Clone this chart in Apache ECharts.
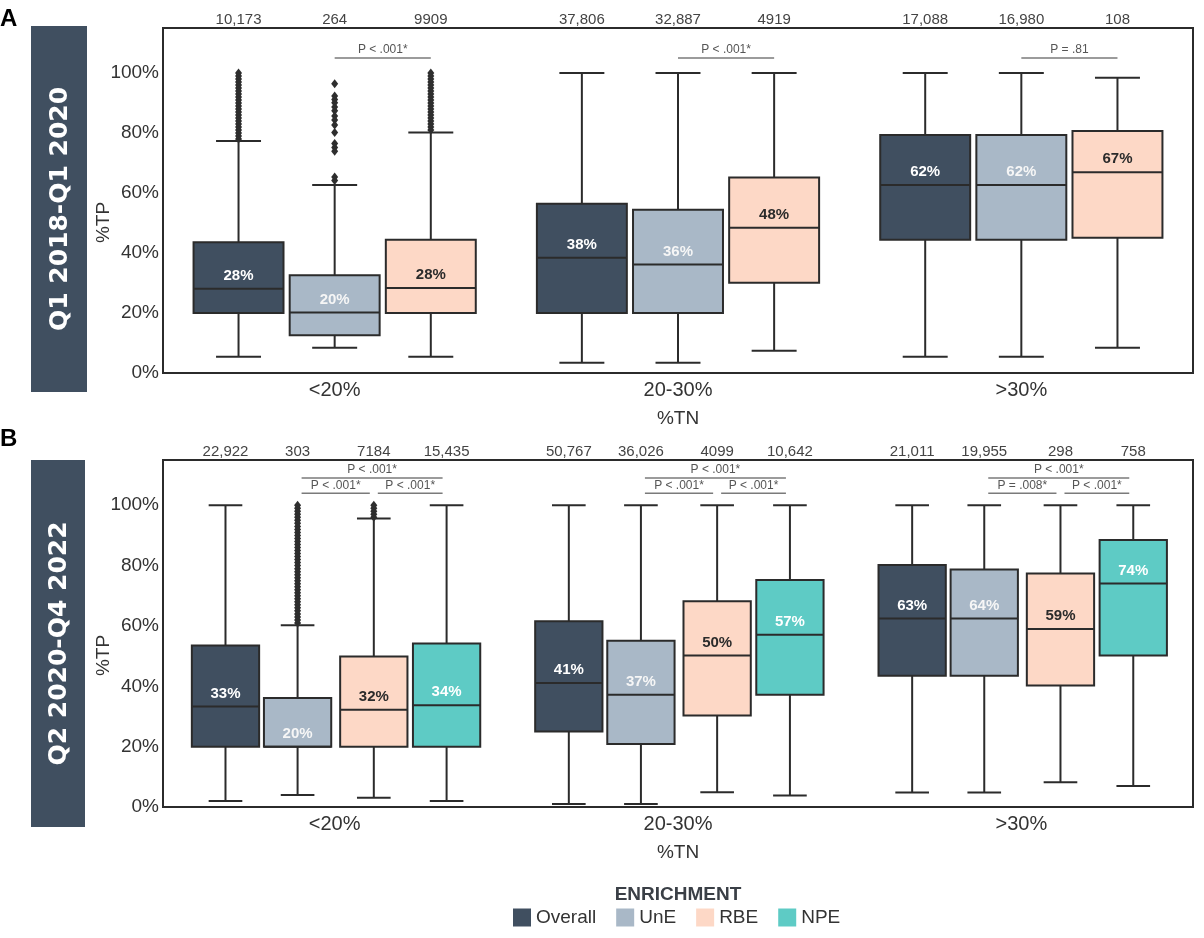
<!DOCTYPE html>
<html><head><meta charset="utf-8">
<script src="https://cdn.jsdelivr.net/npm/echarts@6/dist/echarts.min.js"></script>
<style>html,body{margin:0;padding:0;background:#fff}#c{width:1204px;height:938px}</style>
</head><body><div id="c"></div>
<script>
// ---------- DATA ----------
const categories = ['<20%', '20-30%', '>30%'];
const enrichments = ['Overall', 'UnE', 'RBE', 'NPE'];
const panelTitles = ['Q1 2018-Q1 2020', 'Q2 2020-Q4 2022'];
const panelLetters = ['A', 'B'];

// Panel A: [min, Q1, median, Q3, max] per %TN category
const aOverall = [[5.4, 20, 28.1, 43.6, 77.3], [3.4, 20, 38.4, 56.4, 100], [5.4, 44.4, 62.7, 79.3, 100]];
const aUnE     = [[8.4, 12.6, 20.2, 32.6, 62.7], [3.4, 20, 36.2, 54.4, 100], [5.4, 44.4, 62.7, 79.3, 100]];
const aRBE     = [[5.4, 20, 28.3, 44.4, 80.2], [7.4, 30.1, 48.4, 65.2, 100], [8.4, 45.1, 66.9, 80.7, 98.4]];
const aMedianLabels = [['28%', '38%', '62%'], ['20%', '36%', '62%'], ['28%', '48%', '67%']];
const aCounts = [['10,173', '37,806', '17,088'], ['264', '32,887', '16,980'], ['9909', '4919', '108']];
// outliers (%TP) in the <20% category
const aOverallOut = [78, 79, 80, 81, 82, 83, 84, 85, 86, 87, 88, 89, 90, 91, 92, 93, 94, 95, 96, 97, 98, 99, 100];
const aUnEOut = [96.4, 92.3, 91.2, 90.1, 88.7, 87.4, 85.7, 84.3, 82.7, 80.2, 76.5, 75.2, 73.9, 65.3, 64.2];
const aRBEOut = [81, 82, 83, 84, 85, 86, 87, 88, 89, 90, 91, 92, 93, 94, 95, 96, 97, 98, 99, 100];
// significance brackets: [category, fromGroup, toGroup, height]
const aBrackets = [[0, 1, 2, 105], [1, 1, 2, 105], [2, 1, 2, 105]];
const aBracketText = ['P < .001*', 'P < .001*', 'P = .81'];

// Panel B
const bOverall = [[2.0, 20, 33.3, 53.5, 100], [1.0, 25.0, 41.1, 61.6, 100], [4.8, 43.5, 62.5, 80.2, 100]];
const bUnE     = [[4.0, 20, 20, 36.1, 60.2], [1.0, 20.9, 37.2, 55.1, 100], [4.8, 43.5, 62.5, 78.7, 100]];
const bRBE     = [[3.1, 20, 32.2, 49.9, 95.6], [4.9, 30.3, 50.2, 68.2, 100], [8.2, 40.3, 59.0, 77.4, 100]];
const bNPE     = [[2.0, 20, 33.7, 54.2, 100], [3.8, 37.2, 57.1, 75.2, 100], [7.0, 50.2, 74.1, 88.5, 100]];
const bMedianLabels = [['33%', '41%', '63%'], ['20%', '37%', '64%'], ['32%', '50%', '59%'], ['34%', '57%', '74%']];
const bCounts = [['22,922', '50,767', '21,011'], ['303', '36,026', '19,955'], ['7184', '4099', '298'], ['15,435', '10,642', '758']];
const bUnEOut = [61, 62, 63, 64, 65, 66, 67, 68, 69, 70, 71, 72, 73, 74, 75, 76, 77, 78, 79, 80, 81, 82, 83, 84, 85, 86, 87, 88, 89, 90, 91, 92, 93, 94, 95, 96, 97, 98, 99, 100];
const bRBEOut = [96, 97, 98, 99, 100];
const bBrackets = [[0, 1, 2, 104], [0, 2, 3, 104], [0, 1, 3, 109],
                   [1, 1, 2, 104], [1, 2, 3, 104], [1, 1, 3, 109],
                   [2, 1, 2, 104], [2, 2, 3, 104], [2, 1, 3, 109]];
const bBracketText = ['P < .001*', 'P < .001*', 'P < .001*',
                      'P < .001*', 'P < .001*', 'P < .001*',
                      'P = .008*', 'P < .001*', 'P < .001*'];

// ---------- STYLE ----------
const colors = { Overall: '#404F60', UnE: '#A9B8C7', RBE: '#FDD8C6', NPE: '#5ECBC5' };
const medianTextColors = { Overall: '#ffffff', UnE: '#f6f6f6', RBE: '#2b2b2b', NPE: '#ffffff' };
const INK = '#2b2b2b';
const FONT = "'Liberation Sans', Arial, sans-serif";

const panels = [
  { grid: { left: 163, top: 28, right: 11, height: 345 }, offsets: [-0.28, 0, 0.28], boxFrac: 0.262, inset: 0,
    series: [aOverall, aUnE, aRBE], labels: aMedianLabels, counts: aCounts,
    outliers: [aOverallOut, aUnEOut, aRBEOut], brackets: aBrackets, bracketText: aBracketText },
  { grid: { left: 163, top: 460, right: 11, height: 347 }, offsets: [-0.318, -0.108, 0.114, 0.326], boxFrac: 0.196, inset: 4,
    series: [bOverall, bUnE, bRBE, bNPE], labels: bMedianLabels, counts: bCounts,
    outliers: [[], bUnEOut, bRBEOut, []], brackets: bBrackets, bracketText: bBracketText }
];

function boxRenderer(panel, k, name) {
  const off = panel.offsets[k], frac = panel.boxFrac;
  const labels = panel.labels[k], counts = panel.counts[k];
  return function (params, api) {
    const cat = api.value(0);
    const band = api.size([1, 0])[0];
    const cx = api.coord([cat, 0])[0] + off * band;
    const w = frac * band;
    const Y = v => api.coord([cat, v])[1];
    const mn = Y(api.value(1)), q1 = Y(api.value(2)), md = Y(api.value(3)), q3 = Y(api.value(4)), mx = Y(api.value(5));
    const cw = w * 0.5;
    const st = { stroke: INK, lineWidth: 2 };
    return {
      type: 'group',
      children: [
        { type: 'line', shape: { x1: cx, y1: mx, x2: cx, y2: q3 }, style: st },
        { type: 'line', shape: { x1: cx, y1: q1, x2: cx, y2: mn }, style: st },
        { type: 'line', shape: { x1: cx - cw / 2, y1: mx, x2: cx + cw / 2, y2: mx }, style: st },
        { type: 'line', shape: { x1: cx - cw / 2, y1: mn, x2: cx + cw / 2, y2: mn }, style: st },
        { type: 'rect', shape: { x: cx - w / 2, y: q3, width: w, height: q1 - q3 }, style: { fill: colors[name], stroke: INK, lineWidth: 2 } },
        { type: 'line', shape: { x1: cx - w / 2, y1: md, x2: cx + w / 2, y2: md }, style: st },
        { type: 'text', style: { text: labels[params.dataIndex], x: cx, y: md - 13, fill: medianTextColors[name],
            font: "bold 15px " + FONT, align: 'center', verticalAlign: 'middle', textAlign: 'center', textVerticalAlign: 'middle' } },
        { type: 'text', style: { text: counts[params.dataIndex], x: cx, y: params.coordSys.y - 8, fill: '#444',
            font: "15px " + FONT, align: 'center', verticalAlign: 'middle', textAlign: 'center', textVerticalAlign: 'middle' } }
      ]
    };
  };
}

function outlierRenderer(panel, k) {
  const off = panel.offsets[k];
  return function (params, api) {
    const cat = api.value(0);
    const band = api.size([1, 0])[0];
    const p = api.coord([cat, api.value(1)]);
    const cx = p[0] + off * band, cy = p[1];
    return { type: 'polygon', shape: { points: [[cx, cy - 4.5], [cx + 3.5, cy], [cx, cy + 4.5], [cx - 3.5, cy]] },
             style: { fill: '#2e2e2e' } };
  };
}

function bracketRenderer(panel) {
  return function (params, api) {
    const cat = api.value(0);
    const band = api.size([1, 0])[0];
    const base = api.coord([cat, api.value(3)]);
    const x1 = base[0] + panel.offsets[api.value(1)] * band + panel.inset;
    const x2 = base[0] + panel.offsets[api.value(2)] * band - panel.inset;
    const y = base[1];
    return {
      type: 'group',
      children: [
        { type: 'line', shape: { x1: x1, y1: y, x2: x2, y2: y }, style: { stroke: '#7a7a7a', lineWidth: 1.5 } },
        { type: 'text', style: { text: panel.bracketText[params.dataIndex], x: (x1 + x2) / 2, y: y - 8, fill: '#555',
            font: "12px " + FONT, align: 'center', verticalAlign: 'middle', textAlign: 'center', textVerticalAlign: 'middle' } }
      ]
    };
  };
}

const grids = [], xAxes = [], yAxes = [], series = [], graphics = [];
panels.forEach((panel, pi) => {
  grids.push(Object.assign({ show: true, borderColor: INK, borderWidth: 2, backgroundColor: '#fff' }, panel.grid));
  xAxes.push({
    gridIndex: pi, type: 'category', data: categories,
    axisTick: { show: false }, axisLine: { show: false }, splitLine: { show: false },
    axisLabel: { fontSize: 20, color: '#333', margin: 7, fontFamily: FONT },
    name: '%TN', nameLocation: 'middle', nameGap: 36, nameMoveOverlap: false,
    nameTextStyle: { fontSize: 19, color: '#333', fontFamily: FONT }
  });
  yAxes.push({
    gridIndex: pi, type: 'value', min: 0, max: 115, interval: 20,
    axisTick: { show: false }, axisLine: { show: false }, splitLine: { show: false },
    axisLabel: { fontSize: 19, color: '#333', margin: 4, fontFamily: FONT,
                 formatter: v => (v <= 100 ? v + '%' : '') },
    name: '%TP', nameLocation: 'middle', nameGap: 50, nameMoveOverlap: false,
    nameTextStyle: { fontSize: 19, color: '#333', fontFamily: FONT, padding: [0, 44, 0, 0] }
  });
  panel.series.forEach((arr, k) => {
    const name = enrichments[k];
    series.push({
      type: 'custom', name: name, xAxisIndex: pi, yAxisIndex: pi,
      itemStyle: { color: colors[name] },
      encode: { x: 0, y: [1, 2, 3, 4, 5] },
      data: arr.map((v, ci) => [ci].concat(v)),
      renderItem: boxRenderer(panel, k, name), z: 2
    });
    if (panel.outliers[k].length) {
      series.push({
        type: 'custom', name: name + ' outliers', xAxisIndex: pi, yAxisIndex: pi,
        encode: { x: 0, y: 1 },
        data: panel.outliers[k].map(v => [0, v]),
        renderItem: outlierRenderer(panel, k), z: 3
      });
    }
  });
  series.push({
    type: 'custom', name: 'brackets' + pi, xAxisIndex: pi, yAxisIndex: pi,
    encode: { x: 0, y: 3 },
    data: panel.brackets,
    renderItem: bracketRenderer(panel), z: 4
  });
});

// side panels and letters
const sideBoxes = [{ x: 31, y: 26, w: 56, h: 366 }, { x: 31, y: 460, w: 54, h: 367 }];
sideBoxes.forEach((b, i) => {
  graphics.push({ type: 'rect', left: b.x, top: b.y, shape: { width: b.w, height: b.h }, style: { fill: '#404F60' } });
  graphics.push({ type: 'text', x: b.x + b.w / 2 + 1, y: b.y + b.h / 2, rotation: Math.PI / 2,
    style: { text: panelTitles[i], fill: '#fff', font: "bold 25px 'DejaVu Sans', sans-serif",
             align: 'center', verticalAlign: 'middle', textAlign: 'center', textVerticalAlign: 'middle' } });
});
graphics.push({ type: 'text', left: 0, top: 7, style: { text: panelLetters[0], fill: '#000', font: "bold 24px " + FONT } });
graphics.push({ type: 'text', left: 0, top: 427, style: { text: panelLetters[1], fill: '#000', font: "bold 24px " + FONT } });

const chart = echarts.init(document.getElementById('c'), null, { renderer: 'canvas' });
chart.setOption({
  animation: false,
  backgroundColor: '#fff',
  title: { text: 'ENRICHMENT', left: 678, top: 885, textAlign: 'center', padding: 0,
           textStyle: { fontSize: 19, fontWeight: 'bold', color: '#3a3f46', fontFamily: FONT } },
  legend: {
    top: 908, left: 513, padding: 0, itemWidth: 18, itemHeight: 18, itemGap: 20,
    textStyle: { fontSize: 19, color: '#333', fontFamily: FONT },
    data: enrichments.map(n => ({ name: n, icon: 'rect', itemStyle: { color: colors[n] } }))
  },
  grid: grids, xAxis: xAxes, yAxis: yAxes, series: series, graphic: graphics
});
</script></body></html>
